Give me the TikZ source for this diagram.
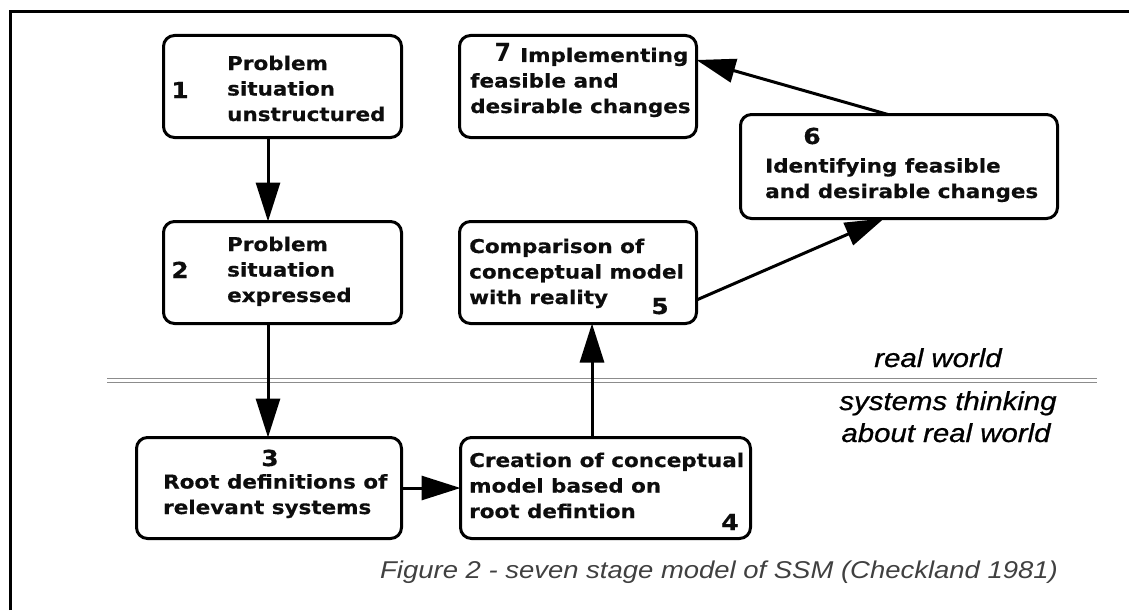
\documentclass[tikz,border=0pt]{standalone}
\usepackage{fontspec}
\setmainfont{DejaVu Sans}
\newfontfamily\bxf{DejaVu Sans}[FakeStretch=1.13, FakeBold=0.5]
\newfontfamily\sevf{DejaVu Sans}[FakeStretch=0.95]
\newfontfamily\itf{Liberation Sans}[FakeStretch=1.13]
\newfontfamily\itb{Liberation Sans}[FakeStretch=1.13, FakeBold=0.8]
\usetikzlibrary{arrows.meta,calc}
\begin{document}
\begin{tikzpicture}[x=1pt,y=-1pt,
 box/.style={draw, line width=3pt, rounded corners=11pt, inner sep=0pt, outer sep=0pt},
 lbl/.style={font=\bxf\bfseries\fontsize{19}{25.5}\selectfont, align=left, anchor=base west, inner sep=0pt, text=black!95},
 num/.style={font=\bxf\bfseries\fontsize{22}{25.5}\selectfont, anchor=base, inner sep=0pt, text=black!95},
 arr/.style={line width=3pt, -{Triangle[length=39pt,width=24pt]}},
 ital/.style={font=\itb\itshape\fontsize{26}{30}\selectfont, anchor=base, inner sep=0pt, text=black},
]
\useasboundingbox (0,0) rectangle (1129,610);
% frame
\draw[line width=3pt] (10.5,610) -- (10.5,11.5) -- (1129,11.5);
% separator
\draw[black!45, line width=1pt] (107,378.5) -- (1097,378.5);
\draw[black!45, line width=1pt] (107,382.5) -- (1097,382.5);

% boxes
\node[box, minimum width=238pt, minimum height=102pt] (b1) at (282.5,86.5) {};
\node[box, minimum width=238pt, minimum height=102pt] (b2) at (282.5,272.5) {};
\node[box, minimum width=265pt, minimum height=101pt] (b3) at (269,488) {};
\node[box, minimum width=290pt, minimum height=101pt] (b4) at (605.5,488) {};
\node[box, minimum width=237pt, minimum height=102pt] (b5) at (578,272.5) {};
\node[box, minimum width=317pt, minimum height=104pt] (b6) at (899,166.5) {};
\node[box, minimum width=237pt, minimum height=102pt] (b7) at (578,86.5) {};

% texts (base anchor = baseline of the last line)
\node[num] (n1) at (180,98) {1};
\node[lbl] (t1) at (227,121) {Problem\\situation\\unstructured};
\node[num] (n2) at (180,278) {2};
\node[lbl] (t2) at (227,302) {Problem\\situation\\expressed};
\node[num] (n3) at (270,466) {3};
\node[lbl] (t3) at (163,514) {Root definitions of\\relevant systems};
\node[lbl] (t4) at (469,518) {Creation of conceptual\\model based on\\root defintion};
\node[num] (n4) at (730,530) {4};
\node[lbl] (t5) at (469,304) {Comparison of\\conceptual model\\with reality};
\node[num] (n5) at (660,314) {5};
\node[num] (n6) at (812,144) {6};
\node[lbl] (t6) at (765,198) {Identifying feasible\\and desirable changes};
\node[num, font=\sevf\bfseries\fontsize{25}{25.5}\selectfont] (n7) at (503,62) {7};
\node[lbl] (t7a) at (520,62) {Implementing};
\node[lbl] (t7) at (470,113) {feasible and\\desirable changes};

% side labels
\node[ital] (rw) at (938,367) {real world};
\node[ital] (st) at (948,410) {systems thinking};
\node[ital] (ar) at (946,442) {about real world};
\node[font=\itf\itshape\fontsize{24.3}{28}\selectfont, anchor=base west, inner sep=0pt, text=black!75] (cap) at (380,578) {Figure 2 - seven stage model of SSM (Checkland 1981)};

% arrows
\coordinate (x12) at (268,0);
\coordinate (x45) at (592,0);
\draw[arr] (b1.south -| x12) -- (b2.north -| x12);
\draw[arr] (b2.south -| x12) -- (b3.north -| x12);
\draw[arr] (b3.east) -- (b4.west);
\draw[arr] (b4.north -| x45) -- (b5.south -| x45);
\draw[arr] ($(b5.east)+(0,27.5)$) -- ($(b6.south)+(-15,0)$);
\draw[arr] ($(b6.north)+(-11,0)$) -- ($(b7.east)+(0,-26.5)$);
\end{tikzpicture}
\end{document}
